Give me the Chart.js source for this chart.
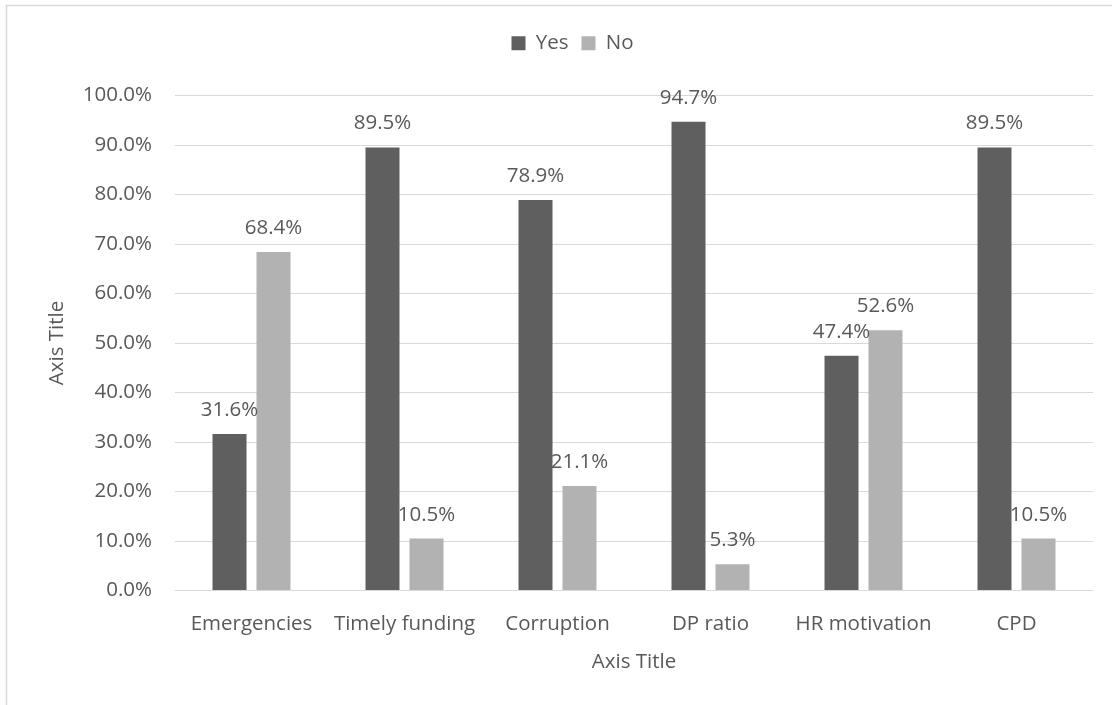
<!DOCTYPE html>
<html>
<head>
<meta charset="utf-8">
<title>Survey responses</title>
<script src="https://cdn.jsdelivr.net/npm/chart.js@4/dist/chart.umd.min.js"></script>
<style>
  html, body { margin: 0; padding: 0; background: #ffffff; }
  #wrap { width: 1112px; height: 705px; }
</style>
</head>
<body>
<div id="wrap"><canvas id="chart" width="1112" height="705"></canvas></div>
<script>
// Categories and percentage shares for each answer
const categories = ['Emergencies', 'Timely funding', 'Corruption', 'DP ratio', 'HR motivation', 'CPD'];
const yesValues = [31.6, 89.5, 78.9, 94.7, 47.4, 89.5];
const noValues  = [68.4, 10.5, 21.1, 5.3, 52.6, 10.5];
const seriesNames = ['Yes', 'No'];
const xAxisTitle = 'Axis Title';
const yAxisTitle = 'Axis Title';

const FONT = "'Open Sans', 'Liberation Sans', sans-serif";
const FS = 20.5;
const TEXT = '#595959';
const GRID = '#d9d9d9';

// Outer frame around the whole chart
const framePlugin = {
  id: 'frame',
  beforeDraw(chart) {
    const ctx = chart.ctx;
    ctx.save();
    ctx.fillStyle = '#ffffff';
    ctx.fillRect(0, 0, chart.width, chart.height);
    ctx.strokeStyle = GRID;
    ctx.lineWidth = 1.5;
    ctx.strokeRect(6.5, 5.5, chart.width + 50, chart.height + 50);
    ctx.restore();
  }
};

// Value labels above every bar
const valueLabels = {
  id: 'valueLabels',
  afterDatasetsDraw(chart) {
    const ctx = chart.ctx;
    ctx.save();
    ctx.font = FS + 'px ' + FONT;
    ctx.fillStyle = TEXT;
    ctx.textAlign = 'center';
    ctx.textBaseline = 'alphabetic';
    chart.data.datasets.forEach((ds, di) => {
      const meta = chart.getDatasetMeta(di);
      meta.data.forEach((bar, i) => {
        ctx.fillText(ds.data[i].toFixed(1) + '%', bar.x, bar.y - 18);
      });
    });
    ctx.restore();
  }
};

new Chart(document.getElementById('chart'), {
  type: 'bar',
  data: {
    labels: categories,
    datasets: [
      { label: seriesNames[0], data: yesValues, backgroundColor: '#5f5f5f', borderWidth: 0,
        categoryPercentage: 0.575, barPercentage: 0.773 },
      { label: seriesNames[1], data: noValues, backgroundColor: '#b2b2b2', borderWidth: 0,
        categoryPercentage: 0.575, barPercentage: 0.773 }
    ]
  },
  options: {
    responsive: false,
    animation: false,
    layout: { padding: { top: 20, left: 52, right: 19, bottom: 0 } },
    plugins: {
      legend: {
        position: 'top',
        labels: {
          boxWidth: 14, boxHeight: 14, padding: 13,
          color: TEXT, font: { family: FONT, size: FS }
        }
      },
      // empty spacer between the legend and the plot
      title: { display: true, text: '', weight: 500, padding: { top: 10, bottom: 9.5 },
               font: { size: 10, lineHeight: 1.25 } },
      tooltip: { enabled: false }
    },
    scales: {
      x: {
        grid: { display: false },
        border: { display: false },
        ticks: { color: TEXT, font: { family: FONT, size: FS }, padding: 13, maxRotation: 0 },
        title: { display: true, text: xAxisTitle, color: TEXT,
                 font: { family: FONT, size: FS }, padding: { top: 0, bottom: 31 } },
        afterFit(scale) { scale.height = 114.5; }
      },
      y: {
        min: 0, max: 100,
        grid: { color: GRID, lineWidth: 1, drawTicks: false },
        border: { display: false },
        ticks: { stepSize: 10, color: TEXT, font: { family: FONT, size: FS }, padding: 23,
                 callback: (v) => Number(v).toFixed(1) + '%' },
        title: { display: true, text: yAxisTitle, color: TEXT,
                 font: { family: FONT, size: FS, lineHeight: 0.5 }, padding: { top: 0, bottom: 0 } },
        afterFit(scale) { scale.width = 123; }
      }
    }
  },
  plugins: [framePlugin, valueLabels]
});
</script>
</body>
</html>
